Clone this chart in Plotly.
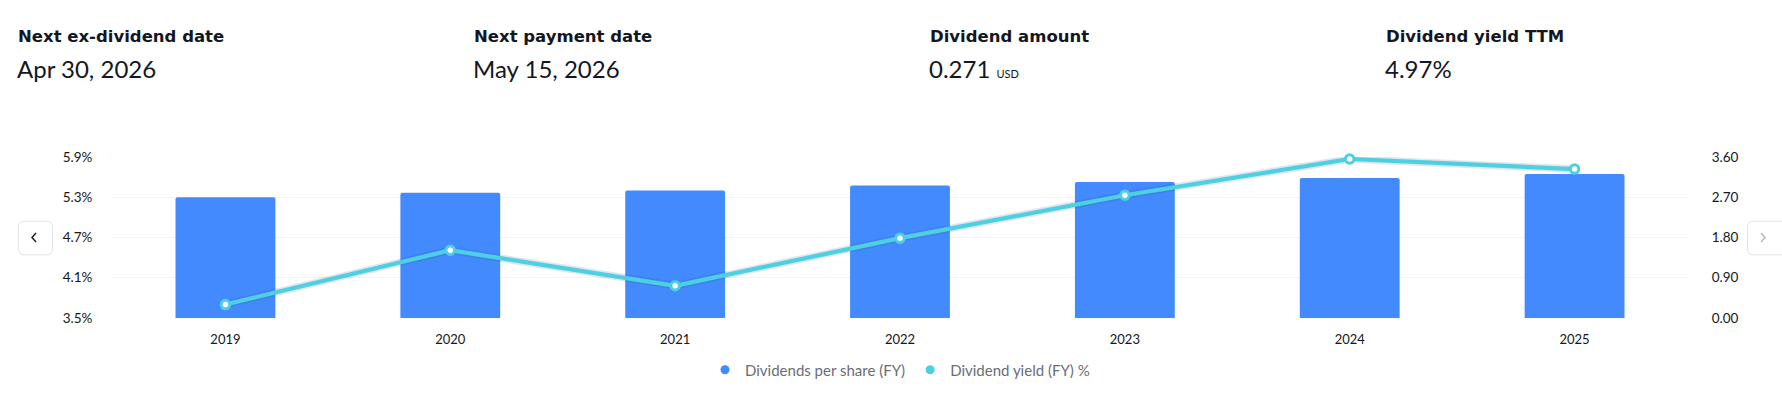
import plotly.graph_objects as go

# ---------------- data ----------------
years = ["2019", "2020", "2021", "2022", "2023", "2024", "2025"]
dividends_per_share = [2.70, 2.80, 2.85, 2.96, 3.04, 3.13, 3.22]
dividend_yield_pct = [3.70, 4.51, 3.98, 4.69, 5.33, 5.87, 5.72]
left_tick_vals = [3.5, 4.1, 4.7, 5.3, 5.9]
right_tick_vals = [0.0, 0.9, 1.8, 2.7, 3.6]
header_labels = ["Next ex-dividend date", "Next payment date", "Dividend amount", "Dividend yield TTM"]
header_values = ["Apr 30, 2026", "May 15, 2026", "0.271", "4.97%"]
header_units = ["", "", "USD", ""]
legend_names = ["Dividends per share (FY)", "Dividend yield (FY) %"]

# ---------------- style ----------------
W, H = 1782, 397
ML, MR, MT, MB = 113, 95, 157, 78
PW, PH = W - ML - MR, H - MT - MB
FONT = "Lato"
LABEL_FONT = "DejaVu Sans"
DARK = "#131722"
BAR_COLOR = "#448AFF"
LINE_COLOR = "#4DD0E1"
GRID = "#F0F3FA"


def px2x(px):
    return (px - ML) / PW


def py2y(py):
    return (H - MB - py) / PH


fig = go.Figure()

fig.add_trace(go.Bar(
    x=years, y=dividends_per_share, yaxis="y",
    marker=dict(color=BAR_COLOR, cornerradius=2, line=dict(width=0)),
    width=0.444, showlegend=False, hoverinfo="skip",
))
# soft shadow under the yield line
fig.add_trace(go.Scatter(
    x=years, y=dividend_yield_pct, yaxis="y2", mode="lines",
    line=dict(color="rgba(40,70,130,0.14)", width=7.5),
    showlegend=False, hoverinfo="skip",
))
fig.add_trace(go.Scatter(
    x=years, y=dividend_yield_pct, yaxis="y2", mode="lines+markers",
    line=dict(color=LINE_COLOR, width=4.2),
    marker=dict(size=8.5, color="white", line=dict(color=LINE_COLOR, width=3)),
    showlegend=False, cliponaxis=False, hoverinfo="skip",
))
# legend entries with round symbols
for name, col in zip(legend_names, [BAR_COLOR, LINE_COLOR]):
    fig.add_trace(go.Scatter(
        x=[None], y=[None], mode="markers", name=name,
        marker=dict(size=9, color=col, symbol="circle"),
    ))

annotations = []
col_x = [15.5, 471.5, 927.5, 1383.5]
for lab, val, unit, cx in zip(header_labels, header_values, header_units, col_x):
    annotations.append(dict(
        xref="paper", yref="paper", x=px2x(cx), y=py2y(35.5),
        xanchor="left", yanchor="middle", showarrow=False,
        text=lab, font=dict(family=LABEL_FONT, size=16.5, color=DARK, weight=700),
    ))
    txt = val if not unit else f"{val} <span style='font-size:11px'>{unit}</span>"
    annotations.append(dict(
        xref="paper", yref="paper", x=px2x(cx - 1), y=py2y(68),
        xanchor="left", yanchor="middle", showarrow=False,
        text=txt, font=dict(family=FONT, size=24, color=DARK),
    ))


def rounded_rect(x0, y0, x1, y1, r):
    pts = [
        ("M", [(x0 + r, y0)]), ("L", [(x1 - r, y0)]), ("Q", [(x1, y0), (x1, y0 + r)]),
        ("L", [(x1, y1 - r)]), ("Q", [(x1, y1), (x1 - r, y1)]), ("L", [(x0 + r, y1)]),
        ("Q", [(x0, y1), (x0, y1 - r)]), ("L", [(x0, y0 + r)]), ("Q", [(x0, y0), (x0 + r, y0)]),
    ]
    s = ""
    for cmd, ps in pts:
        s += cmd + " " + " ".join(f"{px2x(a):.6f},{py2y(b):.6f}" for a, b in ps) + " "
    return s + "Z"


def polyline(points):
    return "M " + " L ".join(f"{px2x(a):.6f},{py2y(b):.6f}" for a, b in points)


shapes = [
    dict(type="path", xref="paper", yref="paper", path=rounded_rect(18.5, 221.5, 52.5, 255.5, 6),
         line=dict(color="#E0E3EB", width=1), fillcolor="white", layer="above"),
    dict(type="path", xref="paper", yref="paper", path=polyline([(36, 233.5), (32, 238), (36, 242.5)]),
         line=dict(color=DARK, width=1.4), layer="above"),
    dict(type="path", xref="paper", yref="paper", path=rounded_rect(1747.5, 221.5, 1790, 255.5, 6),
         line=dict(color="#E0E3EB", width=1), fillcolor="white", layer="above"),
    dict(type="path", xref="paper", yref="paper", path=polyline([(1761, 233.5), (1765, 238), (1761, 242.5)]),
         line=dict(color="#B2B5BE", width=1.4), layer="above"),
]

fig.update_layout(
    width=W, height=H, autosize=False,
    margin=dict(l=ML, r=MR, t=MT, b=MB, pad=0),
    paper_bgcolor="white", plot_bgcolor="white",
    font=dict(family=FONT, size=13, color=DARK),
    bargap=0.5,
    xaxis=dict(
        type="category", showgrid=False, zeroline=False, showline=False,
        ticks="outside", ticklen=9, tickcolor="rgba(0,0,0,0)",
        tickfont=dict(family=FONT, size=13, color=DARK), fixedrange=True,
    ),
    yaxis=dict(
        side="right", range=[0, 3.6], tickvals=right_tick_vals, tickformat=".2f",
        showgrid=True, gridcolor=GRID, gridwidth=1, zeroline=False, showline=False,
        ticks="outside", ticklen=21, tickcolor="rgba(0,0,0,0)",
        tickfont=dict(family=FONT, size=13.5, color=DARK), fixedrange=True,
    ),
    yaxis2=dict(
        overlaying="y", side="left", range=[3.5, 5.9], tickvals=left_tick_vals,
        ticktext=[f"{v:.1f}%" for v in left_tick_vals],
        showgrid=False, zeroline=False, showline=False,
        ticks="outside", ticklen=17, tickcolor="rgba(0,0,0,0)",
        tickfont=dict(family=FONT, size=13.5, color=DARK), fixedrange=True,
    ),
    legend=dict(
        orientation="h", x=0.5, xanchor="center", y=py2y(370), yanchor="middle",
        font=dict(family=FONT, size=15, color="#6A6D78"), itemwidth=30,
        bgcolor="rgba(0,0,0,0)", tracegroupgap=0,
    ),
    annotations=annotations,
    shapes=shapes,
    hovermode=False,
)

fig.write_html(
    "out.html",
    config={"displayModeBar": False, "staticPlot": False},
    post_script="document.body.style.margin='0';document.body.style.overflow='hidden';",
)
